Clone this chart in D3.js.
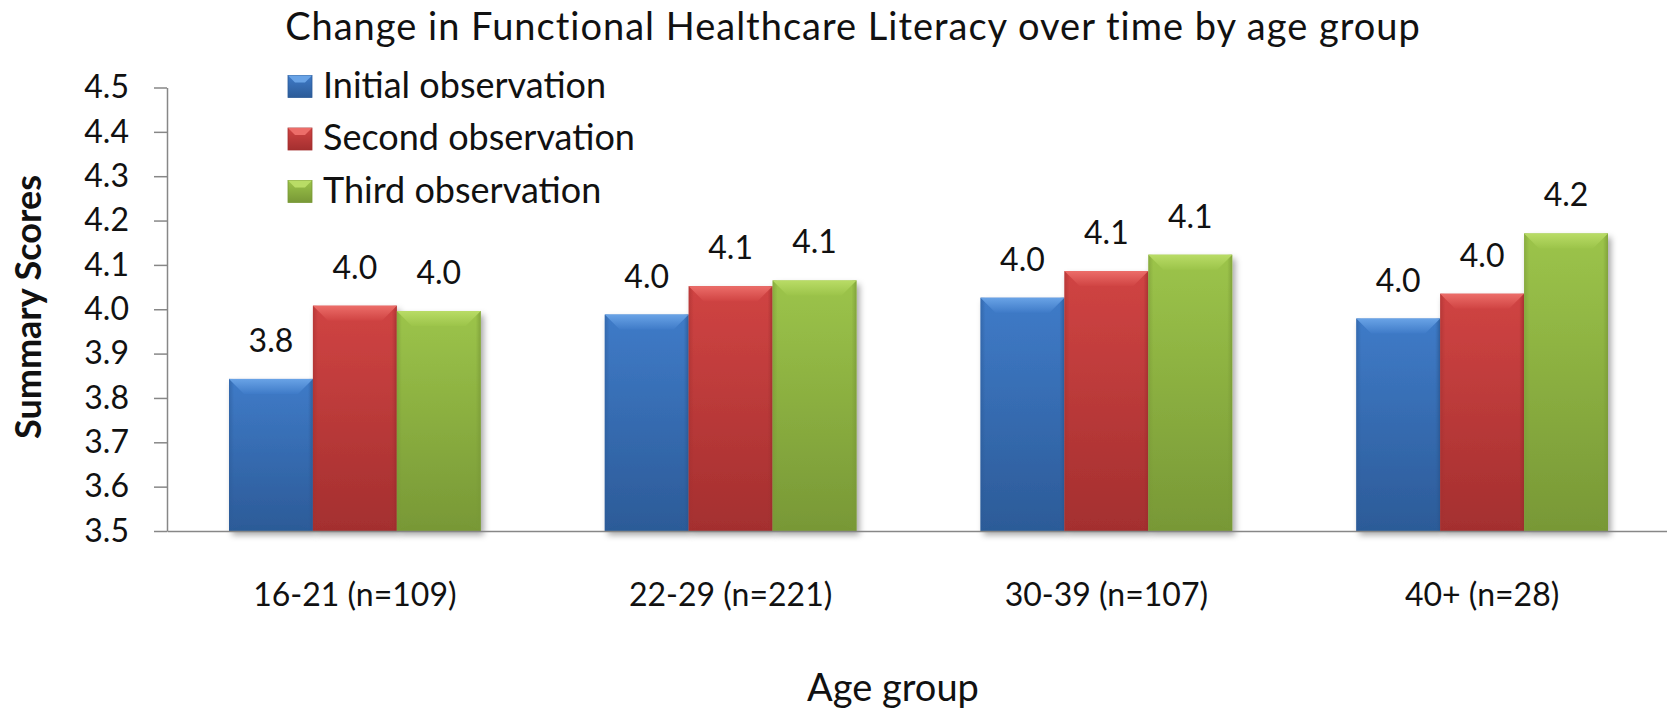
<!DOCTYPE html>
<html>
<head>
<meta charset="utf-8">
<script src="https://cdn.jsdelivr.net/npm/d3@7"></script>
<style>
  body { margin: 0; background: #fff; }
  svg { display: block; font-family: Lato, "Open Sans", sans-serif; }
</style>
</head>
<body>
<svg id="chart" width="1667" height="712"></svg>
<script>
const categories = ['16-21 (n=109)', '22-29 (n=221)', '30-39 (n=107)', '40+ (n=28)'];
const seriesNames = ['Initial observation', 'Second observation', 'Third observation'];
const initialObs = [3.843, 3.988, 4.026, 3.979];
const secondObs = [4.008, 4.052, 4.086, 4.035];
const thirdObs = [3.996, 4.065, 4.123, 4.171];
const yTicks = [3.5, 3.6, 3.7, 3.8, 3.9, 4.0, 4.1, 4.2, 4.3, 4.4, 4.5];

const seriesValues = [initialObs, secondObs, thirdObs];
// light / base / dark for the bevelled bars
const palette = [
  { light: '#69a3e6', base: '#3f7bc8', dark: '#2c5b98' },
  { light: '#ec6d69', base: '#d04443', dark: '#a42f2f' },
  { light: '#b9dc66', base: '#9cc44a', dark: '#789836' }
];

const width = 1667, height = 712;
const svg = d3.select('#chart');
const axisColor = '#878787';

const x0 = d3.scaleBand()
  .domain(categories)
  .range([167, 1670])
  .paddingInner(0.33)
  .paddingOuter(0.165);

const x1 = d3.scaleBand()
  .domain(seriesNames)
  .range([0, x0.bandwidth()]);

const y = d3.scaleLinear()
  .domain([3.5, 4.5])
  .range([531, 87.5]);

const defs = svg.append('defs');
palette.forEach((c, i) => {
  const g = defs.append('linearGradient')
    .attr('id', 'grad' + i)
    .attr('x1', 0).attr('y1', 0).attr('x2', 0).attr('y2', 1);
  g.append('stop').attr('offset', '0%').attr('stop-color', c.base);
  g.append('stop').attr('offset', '100%').attr('stop-color', c.dark);
  const h = defs.append('linearGradient')
    .attr('id', 'side' + i)
    .attr('x1', 0).attr('y1', 0).attr('x2', 1).attr('y2', 0);
  h.append('stop').attr('offset', '0%').attr('stop-color', c.dark).attr('stop-opacity', 0.55);
  h.append('stop').attr('offset', '6%').attr('stop-color', c.dark).attr('stop-opacity', 0);
  h.append('stop').attr('offset', '94%').attr('stop-color', c.dark).attr('stop-opacity', 0);
  h.append('stop').attr('offset', '100%').attr('stop-color', c.dark).attr('stop-opacity', 0.7);
  const t = defs.append('linearGradient')
    .attr('id', 'top' + i)
    .attr('x1', 0).attr('y1', 0).attr('x2', 0).attr('y2', 1);
  t.append('stop').attr('offset', '0%').attr('stop-color', c.light);
  t.append('stop').attr('offset', '100%').attr('stop-color', c.base);
});
const shadow = defs.append('filter').attr('id', 'shadow')
  .attr('x', '-20%').attr('y', '-20%').attr('width', '150%').attr('height', '150%');
shadow.append('feDropShadow')
  .attr('dx', 3).attr('dy', 4).attr('stdDeviation', 3)
  .attr('flood-color', '#000').attr('flood-opacity', 0.35);

// title
svg.append('text')
  .attr('x', 853).attr('y', 40)
  .attr('text-anchor', 'middle')
  .attr('font-size', 38)
  .attr('letter-spacing', 1)
  .attr('fill', '#111')
  .text('Change in Functional Healthcare Literacy over time by age group');

// y axis
const yAxis = svg.append('g')
  .attr('transform', 'translate(167,0)')
  .call(d3.axisLeft(y).tickValues(yTicks).tickSize(13).tickSizeOuter(0)
    .tickPadding(25).tickFormat(d3.format('.1f')));
yAxis.select('.domain').attr('stroke', axisColor).attr('stroke-width', 1.5);
yAxis.selectAll('.tick line').attr('stroke', axisColor).attr('stroke-width', 1.5);
yAxis.selectAll('text').attr('font-size', 32).attr('fill', '#111')
  .attr('font-family', 'Lato, sans-serif');

// bars
const bar = svg.append('g').selectAll('g')
  .data(categories)
  .join('g')
  .attr('transform', d => `translate(${x0(d)},0)`)
  .selectAll('g')
  .data((d, ci) => seriesNames.map((s, si) => ({ s, si, v: seriesValues[si][ci] })))
  .join('g');

const bev = 15;
bar.each(function (d) {
  const g = d3.select(this);
  const bx = x1(d.s), bw = x1.bandwidth(), by = y(d.v), bh = y(3.5) - y(d.v);
  const c = palette[d.si];
  g.append('rect')
    .attr('x', bx).attr('y', by).attr('width', bw).attr('height', bh)
    .attr('fill', `url(#grad${d.si})`)
    .attr('filter', 'url(#shadow)');
  g.append('rect')
    .attr('x', bx).attr('y', by).attr('width', bw).attr('height', bh)
    .attr('fill', `url(#side${d.si})`);
  // top chamfer
  g.append('path')
    .attr('d', `M${bx},${by}H${bx + bw}L${bx + bw - bev},${by + bev}H${bx + bev}Z`)
    .attr('fill', `url(#top${d.si})`);
  // bottom chamfer
  g.append('path')
    .attr('d', `M${bx},${by + bh}H${bx + bw}L${bx + bw - bev},${by + bh - 6}H${bx + bev}Z`)
    .attr('fill', c.dark).attr('opacity', 0.6);
  g.append('text')
    .attr('x', bx + bw / 2).attr('y', by - 27)
    .attr('text-anchor', 'middle')
    .attr('font-size', 32)
    .attr('fill', '#111')
    .text(d3.format('.1f')(d.v));
});

// x axis
const xAxis = svg.append('g')
  .attr('transform', 'translate(0,531)')
  .call(d3.axisBottom(x0).tickSize(0).tickSizeOuter(0));
xAxis.select('.domain').attr('stroke', axisColor).attr('stroke-width', 1.5);
xAxis.selectAll('text')
  .attr('dy', null).attr('y', 75)
  .attr('font-size', 32).attr('fill', '#111')
  .attr('font-family', 'Lato, sans-serif');

// legend
const legend = svg.append('g').selectAll('g')
  .data(seriesNames)
  .join('g')
  .attr('transform', (d, i) => `translate(288,${75.5 + i * 52.5})`);
legend.append('rect')
  .attr('width', 24).attr('height', 22)
  .attr('fill', (d, i) => `url(#grad${i})`)
  .attr('stroke', (d, i) => palette[i].dark).attr('stroke-width', 0.8);
legend.append('path')
  .attr('d', 'M0,0H24L17,7H7Z')
  .attr('fill', (d, i) => palette[i].light);
legend.append('text')
  .attr('x', 35).attr('y', 22)
  .attr('font-size', 36)
  .attr('fill', '#111')
  .text(d => d);

// axis titles
svg.append('text')
  .attr('transform', 'translate(41,307) rotate(-90)')
  .attr('text-anchor', 'middle')
  .attr('font-size', 36)
  .attr('font-weight', 'bold')
  .attr('fill', '#111')
  .text('Summary Scores');

svg.append('text')
  .attr('x', 893).attr('y', 701)
  .attr('text-anchor', 'middle')
  .attr('font-size', 38)
  .attr('fill', '#111')
  .text('Age group');
</script>
</body>
</html>
